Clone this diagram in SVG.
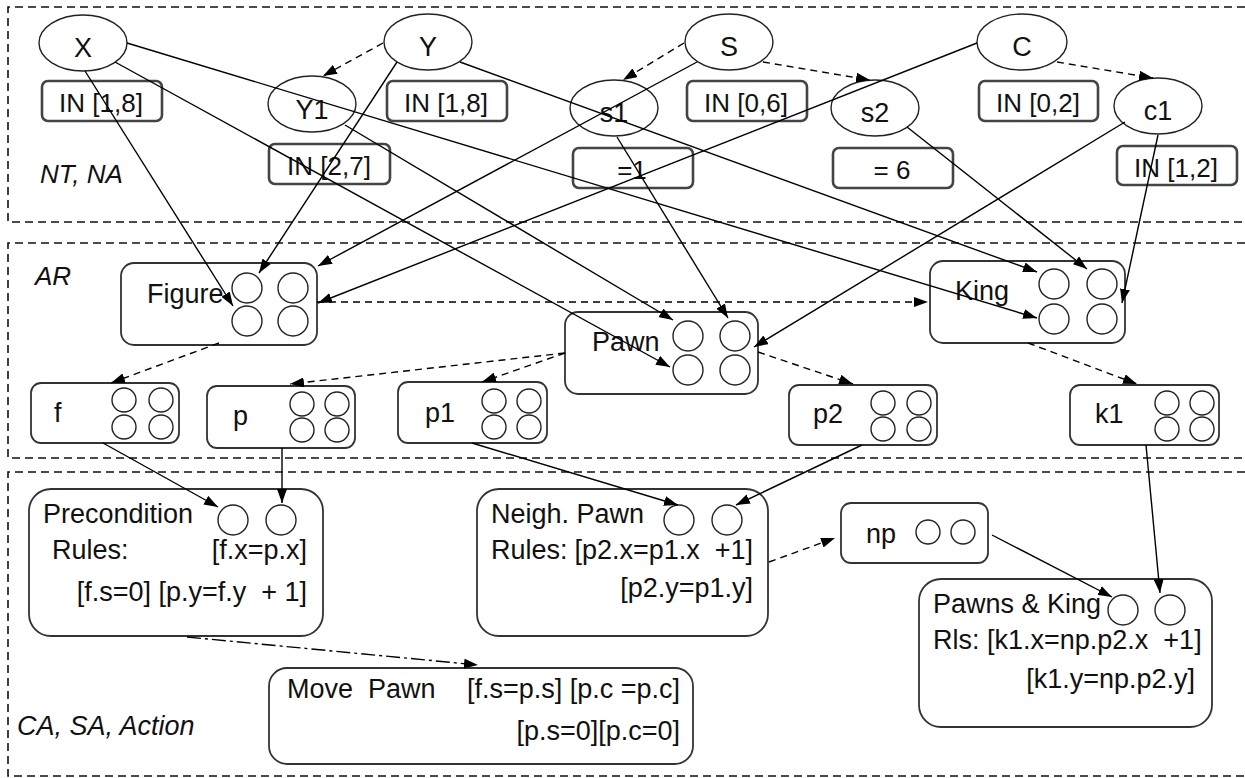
<svg xmlns="http://www.w3.org/2000/svg" width="1245" height="778" viewBox="0 0 1245 778">
<defs>
<marker id="ah" markerUnits="userSpaceOnUse" markerWidth="14" markerHeight="10" refX="14" refY="5" orient="auto">
<path d="M0,0 L14,5 L0,10 z" fill="#000"/>
</marker>
<style>
text{font-family:"Liberation Sans",Arial,sans-serif;font-size:27px;fill:#111;white-space:pre}
.it{font-style:italic}
.mid{text-anchor:middle}
.end{text-anchor:end}
.sm{font-size:26px}
.frame{fill:none;stroke:#111;stroke-width:1.6;stroke-dasharray:8,5}
.ell{fill:#fff;stroke:#222;stroke-width:1.4}
.con{fill:#fff;stroke:#444;stroke-width:2.6}
.node{fill:#fff;stroke:#333;stroke-width:1.8}
.port{fill:#fff;stroke:#222;stroke-width:1.4}
.c{fill:none;stroke:#000;stroke-width:1.4;marker-end:url(#ah)}
.d{fill:none;stroke:#000;stroke-width:1.4;stroke-dasharray:7,5;marker-end:url(#ah)}
.dd{fill:none;stroke:#000;stroke-width:1.4;stroke-dasharray:14,4,3,4;marker-end:url(#ah)}
</style>
</defs>
<rect width="1245" height="778" fill="#fff"/>
<g id="frames">
<path class="frame" d="M1245,7 H8 V222 H1245"/>
<path class="frame" d="M1245,243 H8 V458 H1245"/>
<path class="frame" d="M1245,472 H8 V776 H1245"/>
<text class="it sm" x="40" y="183">NT, NA</text>
<text class="it sm" x="35" y="285">AR</text>
<text class="it" x="17" y="735">CA, SA, Action</text>
</g>
<g id="top-nodes">
<g id="X"><ellipse class="ell" cx="83" cy="43" rx="44" ry="28"/><text class="mid" x="83" y="57">X</text></g>
<g id="Y"><ellipse class="ell" cx="428" cy="42" rx="44" ry="28"/><text class="mid" x="428" y="56">Y</text></g>
<g id="S"><ellipse class="ell" cx="729" cy="42" rx="44" ry="28"/><text class="mid" x="729" y="56">S</text></g>
<g id="C"><ellipse class="ell" cx="1022" cy="42" rx="45" ry="28"/><text class="mid" x="1022" y="56">C</text></g>
<g id="Y1"><ellipse class="ell" cx="312" cy="104" rx="44" ry="28"/><text class="mid" x="312" y="119">Y1</text></g>
<g id="s1"><ellipse class="ell" cx="614" cy="108" rx="44" ry="28"/><text class="mid" x="614" y="122">s1</text></g>
<g id="s2"><ellipse class="ell" cx="875" cy="108" rx="44" ry="28"/><text class="mid" x="875" y="122">s2</text></g>
<g id="c1"><ellipse class="ell" cx="1158" cy="106" rx="44" ry="28"/><text class="mid" x="1158" y="120">c1</text></g>
<g id="dX"><rect class="con" x="42" y="81" width="120" height="40" rx="6"/><text class="mid sm" x="101" y="112">IN [1,8]</text></g>
<g id="dY"><rect class="con" x="387" y="81" width="120" height="40" rx="6"/><text class="mid sm" x="446" y="112">IN [1,8]</text></g>
<g id="dS"><rect class="con" x="687" y="81" width="120" height="40" rx="6"/><text class="mid sm" x="746" y="112">IN [0,6]</text></g>
<g id="dC"><rect class="con" x="979" y="81" width="119" height="40" rx="6"/><text class="mid sm" x="1038" y="112">IN [0,2]</text></g>
<g id="dY1"><rect class="con" x="269" y="144" width="121" height="40" rx="6"/><text class="mid sm" x="329" y="175">IN [2,7]</text></g>
<g id="ds1"><rect class="con" x="573" y="148" width="120" height="40" rx="6"/><text class="mid sm" x="632" y="179">=1</text></g>
<g id="ds2"><rect class="con" x="833" y="148" width="120" height="40" rx="6"/><text class="mid sm" x="892" y="179">= 6</text></g>
<g id="dc1"><rect class="con" x="1117" y="146" width="120" height="39" rx="6"/><text class="mid sm" x="1176" y="177">IN [1,2]</text></g>
</g>
<g id="ar-nodes">
<g id="Figure"><rect class="node" x="121" y="263" width="196" height="82" rx="13"/><text x="147" y="303">Figure</text>
<circle class="port" cx="247" cy="288" r="15"/><circle class="port" cx="293" cy="288" r="15"/><circle class="port" cx="247" cy="321" r="15"/><circle class="port" cx="293" cy="321" r="15"/></g>
<g id="Pawn"><rect class="node" x="565" y="312" width="193" height="82" rx="13"/><text x="592" y="351">Pawn</text>
<circle class="port" cx="688" cy="336" r="15"/><circle class="port" cx="735" cy="336" r="15"/><circle class="port" cx="688" cy="370" r="15"/><circle class="port" cx="735" cy="370" r="15"/></g>
<g id="King"><rect class="node" x="930" y="261" width="195" height="82" rx="13"/><text x="955" y="300">King</text>
<circle class="port" cx="1054" cy="284" r="15"/><circle class="port" cx="1102" cy="284" r="15"/><circle class="port" cx="1054" cy="319" r="15"/><circle class="port" cx="1102" cy="319" r="15"/></g>
<g id="f"><rect class="node" x="31" y="383" width="148" height="60" rx="10"/><text x="54" y="422">f</text>
<circle class="port" cx="124" cy="400" r="12"/><circle class="port" cx="161" cy="400" r="12"/><circle class="port" cx="124" cy="427" r="12"/><circle class="port" cx="161" cy="427" r="12"/></g>
<g id="p"><rect class="node" x="207" y="386" width="148" height="62" rx="10"/><text x="233" y="425">p</text>
<circle class="port" cx="302" cy="404" r="12"/><circle class="port" cx="337" cy="404" r="12"/><circle class="port" cx="302" cy="430" r="12"/><circle class="port" cx="337" cy="430" r="12"/></g>
<g id="p1"><rect class="node" x="398" y="382" width="149" height="61" rx="10"/><text x="425" y="422">p1</text>
<circle class="port" cx="494" cy="401" r="12"/><circle class="port" cx="529" cy="401" r="12"/><circle class="port" cx="494" cy="427" r="12"/><circle class="port" cx="529" cy="427" r="12"/></g>
<g id="p2"><rect class="node" x="789" y="385" width="148" height="60" rx="10"/><text x="813" y="423">p2</text>
<circle class="port" cx="883" cy="403" r="12"/><circle class="port" cx="919" cy="403" r="12"/><circle class="port" cx="883" cy="429" r="12"/><circle class="port" cx="919" cy="429" r="12"/></g>
<g id="k1"><rect class="node" x="1070" y="385" width="149" height="60" rx="10"/><text x="1095" y="423">k1</text>
<circle class="port" cx="1167" cy="403" r="12"/><circle class="port" cx="1202" cy="403" r="12"/><circle class="port" cx="1167" cy="429" r="12"/><circle class="port" cx="1202" cy="429" r="12"/></g>
</g>
<g id="bottom-nodes">
<g id="Precondition"><rect class="node" x="29" y="489" width="294" height="147" rx="22"/>
<circle class="port" cx="233" cy="520" r="15"/><circle class="port" cx="281" cy="520" r="15"/>
<text x="43" y="523">Precondition</text><text x="52" y="559">Rules:</text><text class="end" x="307" y="559">[f.x=p.x]</text>
<text class="end" x="307" y="601" xml:space="preserve">[f.s=0] [p.y=f.y  + 1]</text></g>
<g id="NeighPawn"><rect class="node" x="477" y="489" width="291" height="147" rx="22"/>
<circle class="port" cx="679" cy="520" r="15"/><circle class="port" cx="727" cy="520" r="15"/>
<text x="491" y="523">Neigh. Pawn</text><text x="491" y="559">Rules:</text><text class="end" x="753" y="559" xml:space="preserve">[p2.x=p1.x  +1]</text>
<text class="end" x="753" y="597">[p2.y=p1.y]</text></g>
<g id="np"><rect class="node" x="841" y="503" width="147" height="60" rx="10"/><text x="866" y="543">np</text>
<circle class="port" cx="928" cy="532" r="12"/><circle class="port" cx="963" cy="532" r="12"/></g>
<g id="PawnsKing"><rect class="node" x="919" y="579" width="293" height="148" rx="22"/>
<circle class="port" cx="1123" cy="610" r="15"/><circle class="port" cx="1170" cy="610" r="15"/>
<text x="933" y="613">Pawns &amp; King</text><text x="933" y="649" xml:space="preserve">Rls: [k1.x=np.p2.x  +1]</text>
<text class="end" x="1195" y="688">[k1.y=np.p2.y]</text></g>
<g id="MovePawn"><rect class="node" x="269" y="668" width="424" height="96" rx="18"/>
<text x="287" y="698" xml:space="preserve">Move  Pawn</text><text class="end" x="680" y="698">[f.s=p.s] [p.c =p.c]</text>
<text class="end" x="680" y="740">[p.s=0][p.c=0]</text></g>
</g>
<g id="connectors">
<path class="d" d="M383,43 L323,76"/>
<path class="d" d="M684,43 L623,80"/>
<path class="d" d="M763,62 L870,80"/>
<path class="d" d="M1057,62 L1153,78"/>
<path class="c" d="M85,71 L233,306"/>
<path class="c" d="M127,43 L1037,318"/>
<path class="c" d="M115,62 L670,367"/>
<path class="c" d="M397,62 L259,273"/>
<path class="c" d="M460,62 L1037,272"/>
<path class="c" d="M345,125 L673,320"/>
<path class="c" d="M697,62 L318,266"/>
<path class="c" d="M617,137 L728,318"/>
<path class="c" d="M907,127 L1087,269"/>
<path class="c" d="M977,43 L318,303"/>
<path class="c" d="M1125,122 L754,347"/>
<path class="c" d="M1158,135 L1122,303"/>
<path class="d" d="M317,302 L928,302"/>
<path class="d" d="M219,343 L111,383"/>
<path class="d" d="M565,353 L290,384"/>
<path class="d" d="M565,353 L482,382"/>
<path class="d" d="M758,352 L853,384"/>
<path class="d" d="M1028,343 L1137,384"/>
<path class="c" d="M103,443 L218,507"/>
<path class="c" d="M282,448 L282,503"/>
<path class="c" d="M472,443 L678,505"/>
<path class="c" d="M862,445 L736,505"/>
<path class="d" d="M769,562 L835,538"/>
<path class="c" d="M992,535 L1112,597"/>
<path class="c" d="M1146,445 L1160,593"/>
<path class="dd" d="M187,637 L478,665"/>
</g>
</svg>
